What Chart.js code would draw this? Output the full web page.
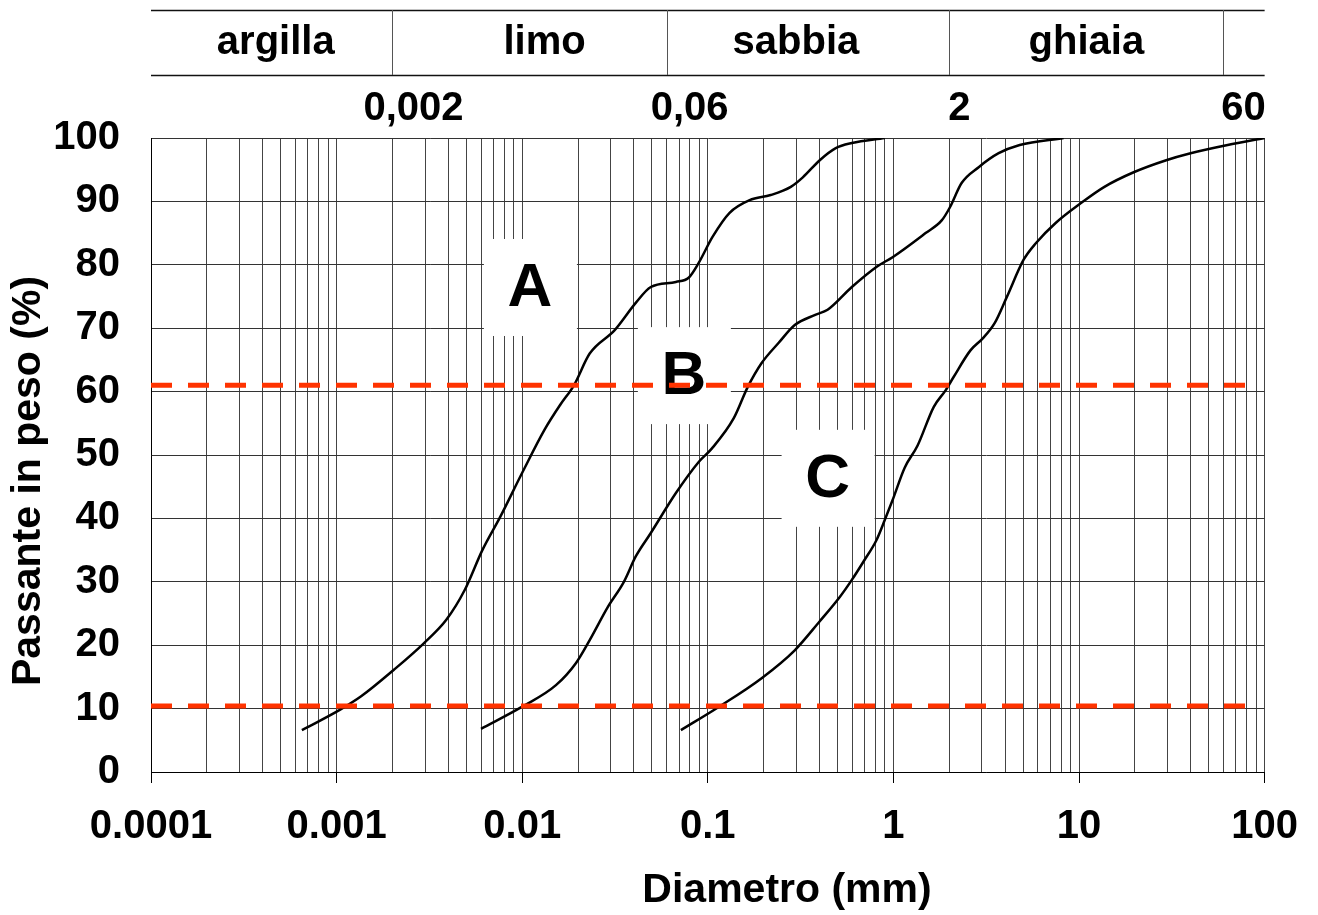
<!DOCTYPE html>
<html>
<head>
<meta charset="utf-8">
<script src="https://cdn.jsdelivr.net/npm/chart.js@4.4.1/dist/chart.umd.min.js"></script>
<style>
    html, body { margin: 0; padding: 0; background: #fff; }
    #wrap { width: 1318px; height: 915px; }
</style>
</head>
<body>
<div id="wrap"><canvas id="granChart" width="1318" height="915"></canvas></div>
<script>
(function () {
    "use strict";

    // curve A
    var diamA = [0.00065, 0.00104, 0.00135, 0.00203, 0.00295, 0.0039, 0.0049, 0.0061, 0.0076, 0.0100, 0.0132, 0.0161, 0.0190, 0.0231, 0.0315, 0.0409, 0.0493, 0.0673, 0.0791, 0.0893, 0.106, 0.131, 0.168, 0.218, 0.280, 0.325, 0.401, 0.489, 0.597, 0.897];
    var passA = [6.6, 9.8, 11.9, 16.1, 20.3, 24, 28.7, 35, 40.2, 47.2, 54, 58, 61, 66, 69.7, 74, 76.5, 77.3, 78, 80.3, 84.4, 88.2, 90.2, 91, 92.3, 93.8, 96.5, 98.4, 99.2, 100];

    // curve B
    var diamB = [0.0060, 0.0100, 0.0152, 0.0195, 0.0231, 0.0289, 0.0353, 0.0409, 0.0493, 0.0673, 0.0893, 0.105, 0.138, 0.164, 0.195, 0.241, 0.294, 0.379, 0.442, 0.597, 0.813, 0.99, 1.49, 1.82, 2.01, 2.33, 2.88, 3.69, 4.79, 8.26];
    var passB = [6.8, 10.3, 13.7, 17.2, 20.8, 26, 30, 34, 37.7, 44, 48.9, 51, 55.8, 60.7, 64.5, 67.7, 70.5, 72.1, 72.9, 76.5, 79.7, 81.2, 85, 87, 89, 92.9, 95.4, 97.6, 98.9, 100];

    // curve C
    var diamC = [0.0716, 0.115, 0.195, 0.294, 0.399, 0.514, 0.597, 0.697, 0.811, 0.897, 0.99, 1.15, 1.35, 1.65, 1.91, 2.11, 2.60, 3.03, 3.51, 4.08, 5.03, 5.85, 7.48, 10.2, 13.7, 19.7, 29.5, 39.9, 63.2, 100];
    var passC = [6.6, 10.3, 14.8, 19.2, 23.7, 27.6, 30.3, 33.4, 36.6, 39.7, 42.9, 48, 51.5, 57.6, 60.2, 62.3, 66.5, 68.4, 70.8, 74.9, 80.8, 83.4, 86.6, 89.7, 92.3, 94.6, 96.5, 97.6, 98.9, 100];

    // red reference lines (D60 / D10)
    var refLevels = [61, 10.4];
    var refFrom = [0.0001, 0.0001];
    var refTo = [85, 92];

    // curve letters
    var markLabels = ["A", "B", "C"];
    var markDiam = [0.011, 0.0743, 0.442];
    var markPass = [76.5, 62.6, 46.4];

    // soil classes on top
    var bandNames = ["argilla", "limo", "sabbia", "ghiaia"];
    var bandLimits = [0.002, 0.06, 2, 60];
    var bandLimitLabels = ["0,002", "0,06", "2", "60"];

    // axes
    var decadeValues = [0.0001, 0.001, 0.01, 0.1, 1, 10, 100];
    var decadeLabels = ["0.0001", "0.001", "0.01", "0.1", "1", "10", "100"];
    var minorSteps = [1, 2, 3, 4, 5, 6, 7, 8, 9];
    var yTicks = [0, 10, 20, 30, 40, 50, 60, 70, 80, 90, 100];

    var FONT = '"Liberation Sans", Arial, sans-serif';
    Chart.defaults.font.family = FONT;
    Chart.defaults.color = "#000";

    function toPoints(xs, ys) {
        return xs.map(function (x, i) {
            return {x: x, y: ys[i]};
        });
    }

    function curve(xs, ys) {
        return {
            data: toPoints(xs, ys),
            showLine: true,
            borderColor: "#000",
            borderWidth: 2.5,
            pointRadius: 0,
            cubicInterpolationMode: "monotone",
            order: 2
        };
    }

    var datasets = [curve(diamA, passA), curve(diamB, passB), curve(diamC, passC)];
    refLevels.forEach(function (lvl, i) {
        datasets.push({
            data: [{x: refFrom[i], y: lvl}, {x: refTo[i], y: lvl}],
            showLine: true,
            borderColor: "#FF3300",
            borderWidth: 5,
            borderDash: [21, 16],
            borderCapStyle: "butt",
            pointRadius: 0,
            order: 1
        });
    });

    // white boxes with the curve letters
    var letterBoxes = {
        id: "letterBoxes",
        beforeDatasetsDraw: function (chart) {
            var ctx = chart.ctx;
            var sx = chart.scales.x, sy = chart.scales.y;
            ctx.save();
            markLabels.forEach(function (lab, i) {
                var px = sx.getPixelForValue(markDiam[i]);
                var py = sy.getPixelForValue(markPass[i]);
                ctx.fillStyle = "#fff";
                ctx.fillRect(px - 46, py - 48, 93, 97);
                ctx.fillStyle = "#000";
                ctx.font = "bold 62px " + FONT;
                ctx.textAlign = "center";
                ctx.textBaseline = "middle";
                ctx.fillText(lab, px, py + 2);
            });
            ctx.restore();
        }
    };

    // class band, limit values and axis titles
    var classBand = {
        id: "classBand",
        afterDraw: function (chart) {
            var ctx = chart.ctx;
            var sx = chart.scales.x;
            var area = chart.chartArea;
            var nameNudge = [4, 15, -12, 0];
            var limitNudge = [21, 23, 10, 20];
            ctx.save();
            ctx.strokeStyle = "#111";
            ctx.lineWidth = 1.5;
            ctx.beginPath();
            ctx.moveTo(area.left, 10.5);
            ctx.lineTo(area.right, 10.5);
            ctx.moveTo(area.left, 75.5);
            ctx.lineTo(area.right, 75.5);
            ctx.stroke();

            ctx.strokeStyle = "#555";
            ctx.lineWidth = 1;
            ctx.beginPath();
            bandLimits.forEach(function (v) {
                var px = Math.round(sx.getPixelForValue(v)) + 0.5;
                ctx.moveTo(px, 10);
                ctx.lineTo(px, 75);
            });
            ctx.stroke();

            ctx.fillStyle = "#000";
            ctx.font = "bold 40px " + FONT;
            ctx.textAlign = "center";
            ctx.textBaseline = "middle";
            bandNames.forEach(function (name, i) {
                var from = i === 0 ? area.left : sx.getPixelForValue(bandLimits[i - 1]);
                var to = sx.getPixelForValue(bandLimits[i]);
                ctx.fillText(name, (from + to) / 2 + nameNudge[i], 43);
            });
            bandLimitLabels.forEach(function (lab, i) {
                ctx.fillText(lab, sx.getPixelForValue(bandLimits[i]) + limitNudge[i], 109);
            });

            ctx.font = "bold 41px " + FONT;
            ctx.fillText("Diametro (mm)", 787, 891);
            ctx.translate(29, 481);
            ctx.rotate(-Math.PI / 2);
            ctx.fillText("Passante in peso (%)", 0, 0);
            ctx.restore();
        }
    };

    var ctx = document.getElementById("granChart");
    new Chart(ctx, {
        type: "scatter",
        data: {datasets: datasets},
        plugins: [letterBoxes, classBand],
        options: {
            responsive: false,
            animation: false,
            devicePixelRatio: 1,
            layout: {
                padding: {top: 138, right: 53, left: 0, bottom: 0}
            },
            plugins: {
                legend: {display: false},
                tooltip: {enabled: false}
            },
            scales: {
                x: {
                    type: "logarithmic",
                    min: decadeValues[0],
                    max: decadeValues[decadeValues.length - 1],
                    afterBuildTicks: function (scale) {
                        var ticks = [];
                        decadeValues.forEach(function (d, i) {
                            if (i === decadeValues.length - 1) {
                                ticks.push({value: d, major: true});
                                return;
                            }
                            minorSteps.forEach(function (m) {
                                ticks.push({value: d * m, major: m === 1});
                            });
                        });
                        scale.ticks = ticks;
                    },
                    afterFit: function (scale) {
                        scale.height = 143;
                    },
                    ticks: {
                        autoSkip: false,
                        maxRotation: 0,
                        minRotation: 0,
                        padding: 20,
                        color: "#000",
                        font: {size: 40, weight: "bold"},
                        major: {enabled: true},
                        callback: function (value) {
                            for (var i = 0; i < decadeValues.length; i++) {
                                if (Math.abs(value / decadeValues[i] - 1) < 1e-6) {
                                    return decadeLabels[i];
                                }
                            }
                            return "";
                        }
                    },
                    grid: {
                        color: "#444",
                        lineWidth: 1,
                        tickLength: 11,
                        tickColor: function (c) {
                            return c.tick && c.tick.major ? "#000" : "rgba(0,0,0,0)";
                        }
                    },
                    border: {display: true, color: "#000", width: 1}
                },
                y: {
                    type: "linear",
                    min: yTicks[0],
                    max: yTicks[yTicks.length - 1],
                    afterBuildTicks: function (scale) {
                        scale.ticks = yTicks.map(function (v) {
                            return {value: v};
                        });
                    },
                    afterFit: function (scale) {
                        scale.width = 151;
                    },
                    ticks: {
                        padding: 31,
                        color: "#000",
                        font: {size: 40, weight: "bold"}
                    },
                    grid: {
                        color: "#333",
                        lineWidth: 1,
                        drawTicks: false
                    },
                    border: {display: true, color: "#000", width: 1}
                }
            }
        }
    });
})();
</script>
</body>
</html>
